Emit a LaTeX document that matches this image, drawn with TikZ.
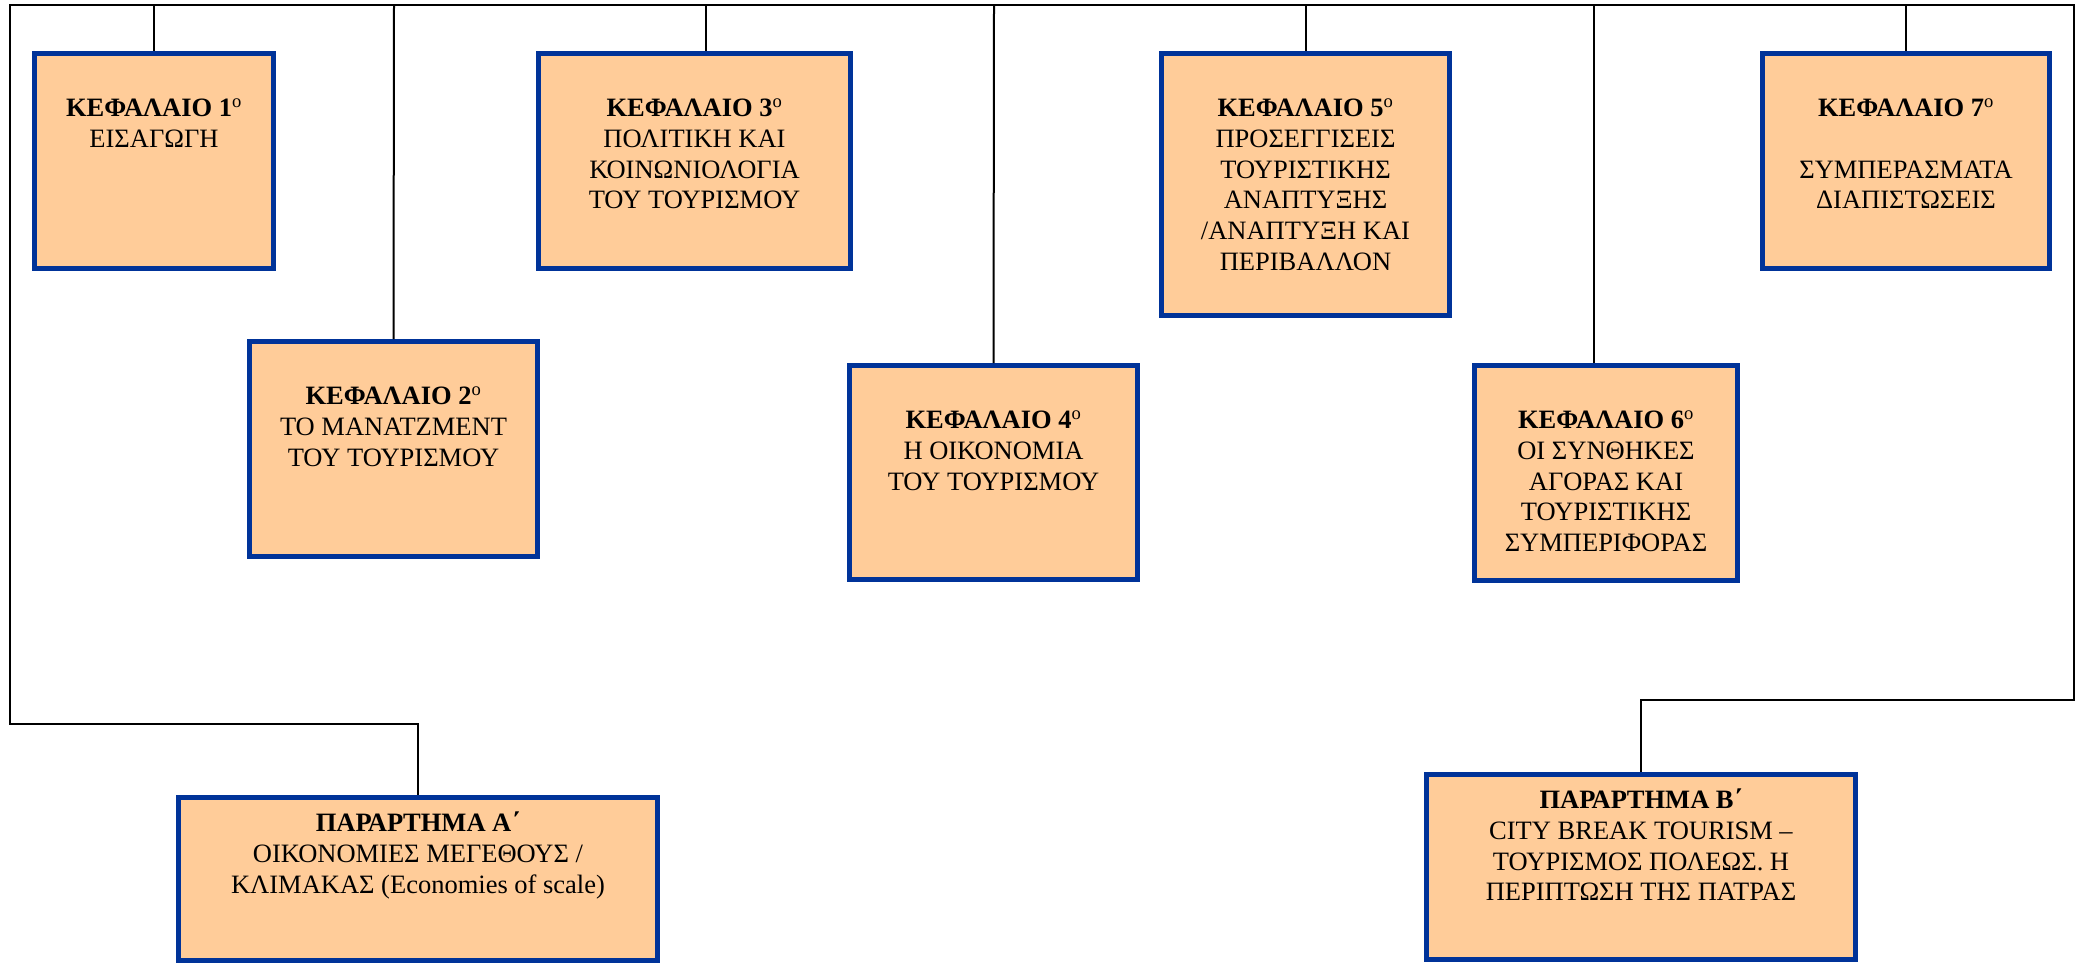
\documentclass[tikz,border=0pt]{standalone}
\usepackage{fontspec}
\setmainfont{Liberation Serif}
\usetikzlibrary{calc}
\definecolor{boxfill}{RGB}{255,204,153}
\definecolor{boxedge}{RGB}{0,51,153}
\tikzset{
  chapbox/.style={rectangle, draw=boxedge, fill=boxfill, line width=5pt, inner sep=0pt},
  chaptext/.style={anchor=north, align=center, inner sep=0pt, text=black,
    font=\fontsize{26.5}{30.7}\selectfont},
  link/.style={draw=black, line width=2pt},
}
% strut that fixes the height of the first text line
\newcommand{\firstrow}{\rule{0pt}{20pt}}
\newcommand{\chapno}[1]{\textbf{ΚΕΦΑΛΑΙΟ #1}\textsuperscript{o}}
\begin{document}
\begin{tikzpicture}[x=1pt, y=-1pt]
\useasboundingbox (0,0) rectangle (2080,964);

% chapter boxes
\node[chapbox, minimum width=239, minimum height=215] (c1) at (154,161) {};
\node[chapbox, minimum width=288, minimum height=215] (c2) at (393.5,449) {};
\node[chapbox, minimum width=312, minimum height=215] (c3) at (694.5,161) {};
\node[chapbox, minimum width=288, minimum height=214] (c4) at (993.5,472.5) {};
\node[chapbox, minimum width=288, minimum height=262] (c5) at (1305.5,184.5) {};
\node[chapbox, minimum width=263, minimum height=215] (c6) at (1606,473) {};
\node[chapbox, minimum width=287, minimum height=215] (c7) at (1906,161) {};
% appendix boxes
\node[chapbox, minimum width=479, minimum height=163] (pa) at (418,879) {};
\node[chapbox, minimum width=429, minimum height=185] (pb) at (1641,867) {};

% box texts
\node[chaptext] (t1) at ($(c1.north)+(0,45.5)$) {\firstrow\chapno{1}\\ ΕΙΣΑΓΩΓΗ};
\node[chaptext] (t2) at ($(c2.north)+(0,45.5)$) {\firstrow\chapno{2}\\ ΤΟ ΜΑΝΑΤΖΜΕΝΤ\\ ΤΟΥ ΤΟΥΡΙΣΜΟΥ};
\node[chaptext] (t3) at ($(c3.north)+(0,45.5)$) {\firstrow\chapno{3}\\ ΠΟΛΙΤΙΚΗ ΚΑΙ\\ ΚΟΙΝΩΝΙΟΛΟΓΙΑ\\ ΤΟΥ ΤΟΥΡΙΣΜΟΥ};
\node[chaptext] (t4) at ($(c4.north)+(0,45.5)$) {\firstrow\chapno{4}\\ Η ΟΙΚΟΝΟΜΙΑ\\ ΤΟΥ ΤΟΥΡΙΣΜΟΥ};
\node[chaptext] (t5) at ($(c5.north)+(0,45.5)$) {\firstrow\chapno{5}\\ ΠΡΟΣΕΓΓΙΣΕΙΣ\\ ΤΟΥΡΙΣΤΙΚΗΣ\\ ΑΝΑΠΤΥΞΗΣ\\ /ΑΝΑΠΤΥΞΗ ΚΑΙ\\ ΠΕΡΙΒΑΛΛΟΝ};
\node[chaptext] (t6) at ($(c6.north)+(0,45.5)$) {\firstrow\chapno{6}\\ ΟΙ ΣΥΝΘΗΚΕΣ\\ ΑΓΟΡΑΣ ΚΑΙ\\ ΤΟΥΡΙΣΤΙΚΗΣ\\ ΣΥΜΠΕΡΙΦΟΡΑΣ};
\node[chaptext] (t7) at ($(c7.north)+(0,45.5)$) {\firstrow\chapno{7}\\[30.7pt] ΣΥΜΠΕΡΑΣΜΑΤΑ\\ ΔΙΑΠΙΣΤΩΣΕΙΣ};
\node[chaptext] (ta) at ($(pa.north)+(0,16.5)$) {\firstrow\textbf{ΠΑΡΑΡΤΗΜΑ Α΄}\\ ΟΙΚΟΝΟΜΙΕΣ ΜΕΓΕΘΟΥΣ /\\ ΚΛΙΜΑΚΑΣ (Economies of scale)};
\node[chaptext] (tb) at ($(pb.north)+(0,16.5)$) {\firstrow\textbf{ΠΑΡΑΡΤΗΜΑ Β΄}\\ CITY BREAK TOURISM –\\ ΤΟΥΡΙΣΜΟΣ ΠΟΛΕΩΣ. Η\\ ΠΕΡΙΠΤΩΣΗ ΤΗΣ ΠΑΤΡΑΣ};

% drop points on the top rail
\coordinate (r0) at (10,5);
\coordinate (r1) at (154,5);
\coordinate (r2) at (394,5);
\coordinate (r3) at (706,5);
\coordinate (r4) at (994,5);
\coordinate (r5) at (1306,5);
\coordinate (r6) at (1594,5);
\coordinate (r7) at (1906,5);
% outer routes to the appendices
\coordinate (la) at (10,724);
\coordinate (ra) at (2074,5);
\coordinate (rb) at (2074,700);

\begin{scope}[on background layer/.try]
\draw[link] (r7) -- (r0) -- (la) -- (la -| pa.north) -- (pa.north);
\draw[link] (r7) -- (ra) -- (rb) -- (rb -| pb.north) -- (pb.north);
\draw[link] (r1) -- (c1.north);
\draw[link] (r2) -- (c2.north);
\draw[link] (r3) -- (r3 |- c3.north);
\draw[link] (r4) -- (c4.north);
\draw[link] (r5) -- (r5 |- c5.north);
\draw[link] (r6) -- (r6 |- c6.north);
\draw[link] (r7) -- (c7.north);
\end{scope}
\end{tikzpicture}
\end{document}
